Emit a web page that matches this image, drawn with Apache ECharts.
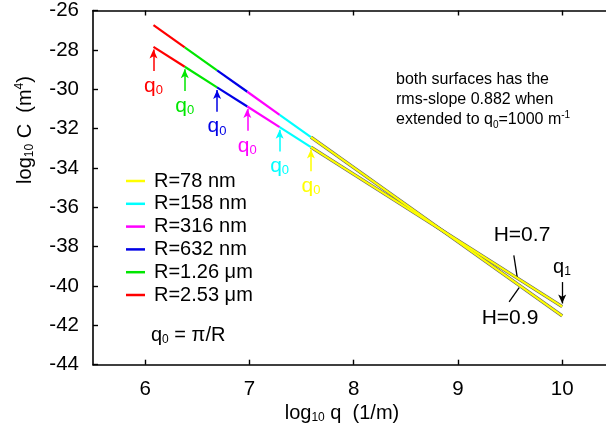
<!DOCTYPE html>
<html><head><meta charset="utf-8">
<script src="https://cdn.jsdelivr.net/npm/echarts@6/dist/echarts.min.js"></script>
<style>html,body{margin:0;padding:0;background:#fff}#c{width:606px;height:433px}</style>
</head><body><div id="c"></div>
<script>
// log10 q0 for each radius (largest R first), last value is q1
const qEdges = [6.08, 6.38, 6.69, 6.98, 7.29, 7.59, 10.0];
// log10 C at those q for H=0.9 (upper start) and H=0.7 (lower start)
const logC_H09 = [-26.74, -27.87, -29.04, -30.13, -31.30, -32.43, -41.52];
const logC_H07 = [-27.85, -28.86, -29.91, -30.88, -31.93, -32.94, -41.05];
const radiusNames = ['R=2.53 μm', 'R=1.26 μm', 'R=632 nm', 'R=316 nm', 'R=158 nm', 'R=78 nm'];
const segColors = ['#ff0000', '#00e600', '#0000e6', '#ff00ff', '#00ffff', '#ffff00'];
const xTicks = [6, 7, 8, 9, 10];
const yMin = -44, yMax = -26, yStep = 2;

const FONT = 'Liberation Sans, Arial, sans-serif';
const chart = echarts.init(document.getElementById('c'), null, {renderer: 'canvas'});

const series = [];
// dark edge under the yellow part
[logC_H09, logC_H07].forEach(arr => {
  series.push({
    type: 'line', name: 'edge', silent: true, showSymbol: false, z: 2,
    data: [[qEdges[5], arr[5]], [qEdges[6], arr[6]]],
    lineStyle: {color: '#666', width: 3.4}
  });
});
const ARROW_GAP = 0.13, ARROW_LEN = 1.1;
for (let i = 0; i < 6; i++) {
  [logC_H09, logC_H07].forEach((arr, k) => {
    const s = {
      type: 'line', name: radiusNames[i], showSymbol: false, z: 3 + i,
      color: segColors[i],
      itemStyle: {color: segColors[i]},
      data: [[qEdges[i], arr[i]], [qEdges[i + 1], arr[i + 1]]],
      lineStyle: {color: segColors[i], width: 2.2}
    };
    if (k === 1) {
      const tip = arr[i] - ARROW_GAP;
      s.markLine = {
        silent: true, animation: false,
        symbol: ['none', 'arrow'], symbolSize: [6, 9],
        lineStyle: {color: segColors[i], width: 1.5, type: 'solid'},
        label: {
          show: true, position: 'start', distance: 4,
          formatter: '{q|q}{s|0}',
          rich: {
            q: {fontSize: 21, fontFamily: FONT, color: segColors[i], lineHeight: 22},
            s: {fontSize: 13, fontFamily: FONT, color: segColors[i], lineHeight: 22, verticalAlign: 'bottom'}
          }
        },
        data: [[{coord: [qEdges[i], tip - ARROW_LEN]}, {coord: [qEdges[i], tip]}]]
      };
    }
    series.push(s);
  });
}
// annotation pointers (q1 arrow, H labels)
series.push({
  type: 'line', name: 'annot', data: [], silent: true,
  markLine: {
    silent: true, animation: false, symbol: ['none', 'none'],
    lineStyle: {color: '#000', width: 1.3, type: 'solid'},
    label: {show: false},
    data: [
      [{coord: [9.536, -38.44]}, {coord: [9.568, -39.54]}],
      [{coord: [9.491, -40.81]}, {coord: [9.587, -40.08]}],
      [{coord: [10, -39.80], symbol: 'none'}, {coord: [10, -40.89], symbol: 'arrow', symbolSize: [6, 9]}]
    ]
  }
});

const yRich = {
  a: {fontSize: 20, fontFamily: FONT, color: '#000'},
  s: {fontSize: 12, fontFamily: FONT, color: '#000', verticalAlign: 'bottom', lineHeight: 22},
  p: {fontSize: 12, fontFamily: FONT, color: '#000', verticalAlign: 'top', lineHeight: 22}
};
const nRich = {
  a: {fontSize: 16, fontFamily: FONT, color: '#000', lineHeight: 20},
  s: {fontSize: 10, fontFamily: FONT, color: '#000', verticalAlign: 'bottom', lineHeight: 20},
  p: {fontSize: 10, fontFamily: FONT, color: '#000', verticalAlign: 'top', lineHeight: 20}
};

const option = {
  animation: false,
  backgroundColor: '#fff',
  grid: {left: 93, right: 0, top: 9.5, bottom: 68.3, containLabel: false},
  legend: {
    orient: 'vertical', left: 126, top: 171, padding: 0,
    itemWidth: 19, itemHeight: 2.5, itemGap: 2.8, icon: 'rect',
    selectedMode: false,
    textStyle: {fontSize: 20, fontFamily: FONT, color: '#000', padding: [0, 0, 0, 4]},
    data: radiusNames.slice().reverse()
  },
  xAxis: [{
    type: 'value', min: 5.5, max: 10.42, position: 'bottom',
    axisLine: {show: true, onZero: false, lineStyle: {color: '#000', width: 1.6}},
    axisTick: {show: true, inside: true, length: 5, customValues: xTicks, lineStyle: {color: '#000', width: 1.4}},
    axisLabel: {show: true, customValues: xTicks, margin: 14, fontSize: 20.5, fontFamily: FONT, color: '#000'},
    splitLine: {show: false}
  }, {
    type: 'value', min: 5.5, max: 10.42, position: 'top',
    axisLine: {show: true, onZero: false, lineStyle: {color: '#000', width: 1.6}},
    axisTick: {show: true, inside: true, length: 5, customValues: xTicks, lineStyle: {color: '#000', width: 1.4}},
    axisLabel: {show: false},
    splitLine: {show: false}
  }],
  yAxis: {
    type: 'value', min: yMin, max: yMax, interval: yStep,
    axisLine: {show: true, onZero: false, lineStyle: {color: '#000', width: 1.6}},
    axisTick: {show: true, inside: true, length: 5, lineStyle: {color: '#000', width: 1.4}},
    axisLabel: {margin: 14, fontSize: 20.5, fontFamily: FONT, color: '#000'},
    splitLine: {show: false}
  },
  series: series,
  graphic: [
    {type: 'text', x: 25, y: 130, rotation: Math.PI / 2,
     style: {text: '{a|log}{s|10}{a| C  (m}{p|4}{a|)}', rich: yRich, align: 'center', verticalAlign: 'middle'}},
    {type: 'text', x: 342, y: 413,
     style: {text: '{a|log}{s|10}{a| q  (1/m)}', rich: yRich, align: 'center', verticalAlign: 'middle'}},
    {type: 'text', x: 396, y: 100,
     style: {text: '{a|both surfaces has the}\n{a|rms-slope 0.882 when}\n{a|extended to q}{s|0}{a|=1000 m}{p|-1}',
             rich: nRich, align: 'left', verticalAlign: 'middle'}},
    {type: 'text', x: 151, y: 335,
     style: {text: '{a|q}{s|0}{a| = π/R}', rich: yRich, align: 'left', verticalAlign: 'middle'}},
    {type: 'text', x: 522, y: 235,
     style: {text: 'H=0.7', font: '21px ' + FONT, fill: '#000', align: 'center', verticalAlign: 'middle'}},
    {type: 'text', x: 510, y: 318,
     style: {text: 'H=0.9', font: '21px ' + FONT, fill: '#000', align: 'center', verticalAlign: 'middle'}},
    {type: 'text', x: 562, y: 267,
     style: {text: '{a|q}{s|1}', rich: yRich, align: 'center', verticalAlign: 'middle'}}
  ]
};
chart.setOption(option);
</script>
</body></html>
